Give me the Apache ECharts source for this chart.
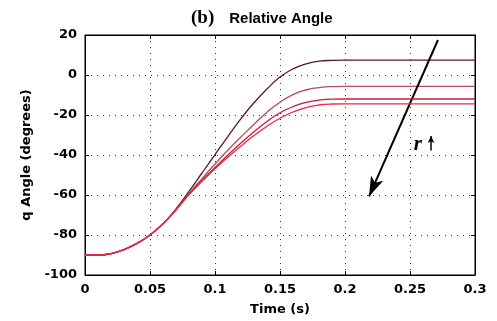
<!DOCTYPE html>
<html>
<head>
<meta charset="utf-8">
<script src="https://cdn.jsdelivr.net/npm/echarts@6/dist/echarts.min.js"></script>
<style>html,body{margin:0;padding:0;background:#fff;}#c{width:497px;height:321px;}</style>
</head>
<body>
<div id="c"></div>
<script>
// Time samples (s)
var time = [0, 0.01, 0.02, 0.03, 0.04, 0.05, 0.06, 0.07, 0.08, 0.09, 0.10, 0.11, 0.12, 0.13, 0.14, 0.15, 0.16, 0.17, 0.18, 0.19, 0.20, 0.30];
// Relative angle (degrees) for four values of r
var angle1 = [-90, -90, -89.3, -87.3, -84.2, -80, -74.4, -67.0, -58.2, -49.0, -39.8, -30.7, -21.8, -13.9, -7.0, -1.0, 3.1, 5.6, 6.9, 7.3, 7.4, 7.4];
var angle2 = [-90, -90, -89.3, -87.3, -84.2, -80, -74.4, -67.3, -59.3, -51.8, -44.5, -37.5, -31.0, -24.6, -18.6, -13.6, -9.8, -7.5, -6.3, -5.8, -5.7, -5.7];
var angle3 = [-90, -90, -89.3, -87.3, -84.2, -80, -74.4, -67.4, -59.6, -52.7, -46.2, -40.0, -34.0, -28.4, -23.2, -18.9, -15.8, -13.7, -12.6, -12.1, -12.0, -12.0];
var angle4 = [-90, -90, -89.3, -87.3, -84.2, -80, -74.4, -67.5, -59.8, -53.2, -46.9, -41.0, -35.5, -30.3, -25.6, -21.6, -18.5, -16.3, -15.0, -14.5, -14.4, -14.4];
var seriesColors = ['#5a1820', '#b44a5a', '#cc1a3a', '#e8284a'];
// Tick labels
var xTickLabels = ['0', '0.05', '0.1', '0.15', '0.2', '0.25', '0.3'];
var yTickLabels = ['-100', '-80', '-60', '-40', '-20', '0', '20'];
// Annotation (data coordinates)
var bigArrow = [[0.2715, 17.5], [0.2185, -60.7]];
var smallArrow = [[0.2662, -37.8], [0.2662, -30.5]];
var rLabelPos = [0.256, -34.8];

function pairs(ys) { return time.map(function (t, i) { return [t, ys[i]]; }); }

var chart = echarts.init(document.getElementById('c'));
var tickFont = { fontFamily: 'DejaVu Sans', fontWeight: 'bold', fontSize: 13, color: '#000' };
var gridLine = { show: true, lineStyle: { color: '#333', type: [1, 5], width: 1 } };

var allSeries = [angle1, angle2, angle3, angle4].map(function (ys, i) {
  return {
    type: 'line', data: pairs(ys), showSymbol: false, smooth: true,
    lineStyle: { color: seriesColors[i], width: 1.3 }, itemStyle: { color: seriesColors[i] },
    z: 3 + i, silent: true
  };
});
allSeries.push({
  type: 'line', data: [], silent: true,
  markLine: {
    silent: true, symbol: ['none', 'arrow'], label: { show: false },
    animation: false,
    data: [
      [{ coord: bigArrow[0], symbol: 'none', lineStyle: { color: '#000', width: 2, type: 'solid' } },
       { coord: bigArrow[1], symbol: 'arrow', symbolSize: [10, 20] }],
      [{ coord: smallArrow[0], symbol: 'none', lineStyle: { color: '#000', width: 1.5, type: 'solid' } },
       { coord: smallArrow[1], symbol: 'arrow', symbolSize: [5, 7] }]
    ]
  },
  markPoint: {
    silent: true, animation: false,
    data: [{ coord: rLabelPos, symbol: 'circle', symbolSize: 1, itemStyle: { color: 'rgba(0,0,0,0)' },
      label: { show: true, position: 'inside', formatter: 'r', fontFamily: 'Liberation Serif', fontStyle: 'italic', fontWeight: 'bold', fontSize: 21, color: '#000' } }]
  }
});

chart.setOption({
  animation: false,
  backgroundColor: '#fff',
  title: {
    text: '{a|(b)}   {b|Relative Angle}',
    left: 186, top: 4,
    textStyle: {
      rich: {
        a: { fontFamily: 'Liberation Serif', fontWeight: 'bold', fontSize: 19, color: '#000' },
        b: { fontFamily: 'Liberation Sans', fontWeight: 'bold', fontSize: 15, color: '#000' }
      }
    }
  },
  grid: { left: 85, right: 22, top: 35, bottom: 45, show: true, borderColor: '#000', borderWidth: 1, backgroundColor: '#fff' },
  xAxis: [{
    type: 'value', min: 0, max: 0.3, interval: 0.05,
    name: 'Time (s)', nameLocation: 'middle', nameGap: 28,
    nameTextStyle: tickFont,
    axisLine: { show: true, onZero: false, lineStyle: { color: '#000', width: 1 } },
    axisTick: { show: true, inside: true, length: 4, lineStyle: { color: '#000' } },
    axisLabel: Object.assign({ margin: 8, formatter: function (v, i) { return xTickLabels[i]; } }, tickFont),
    splitLine: gridLine
  }, {
    type: 'value', min: 0, max: 0.3, interval: 0.05, position: 'top',
    axisLine: { show: true, onZero: false, lineStyle: { color: '#000' } },
    axisTick: { show: true, inside: true, length: 4, lineStyle: { color: '#000' } },
    axisLabel: { show: false }, splitLine: { show: false }
  }],
  yAxis: [{
    type: 'value', min: -100, max: 20, interval: 20,
    name: 'q Angle (degrees)', nameLocation: 'middle', nameGap: 47, nameRotate: 90,
    nameTextStyle: tickFont,
    axisLine: { show: true, onZero: false, lineStyle: { color: '#000', width: 1 } },
    axisTick: { show: true, inside: true, length: 4, lineStyle: { color: '#000' } },
    axisLabel: Object.assign({ margin: 8, formatter: function (v, i) { return yTickLabels[i]; } }, tickFont),
    splitLine: gridLine
  }, {
    type: 'value', min: -100, max: 20, interval: 20, position: 'right',
    axisLine: { show: true, onZero: false, lineStyle: { color: '#000' } },
    axisTick: { show: true, inside: true, length: 4, lineStyle: { color: '#000' } },
    axisLabel: { show: false }, splitLine: { show: false }
  }],
  series: allSeries
});
</script>
</body>
</html>
